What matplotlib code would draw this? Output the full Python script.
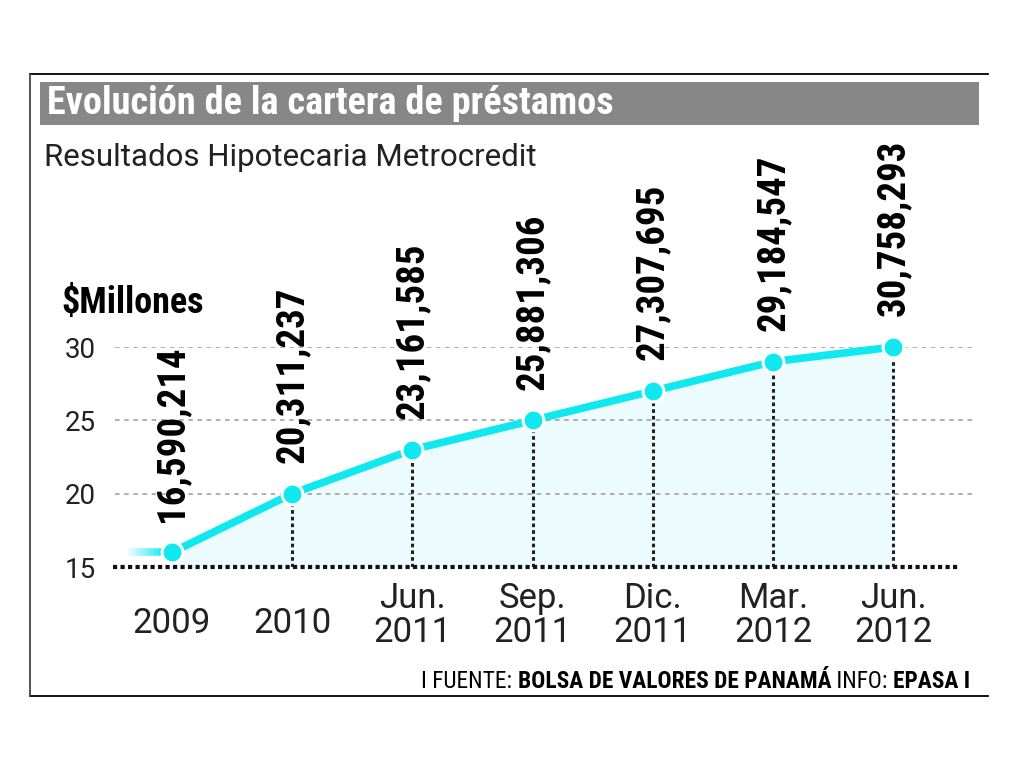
import numpy as np
import matplotlib
matplotlib.use("Agg")
import matplotlib.pyplot as plt
from matplotlib import font_manager
from matplotlib.patches import Rectangle

# data
periods = ["2009", "2010", "Jun.\n2011", "Sep.\n2011", "Dic.\n2011", "Mar.\n2012", "Jun.\n2012"]
amounts = ["16,590,214", "20,311,237", "23,161,585", "25,881,306",
           "27,307,695", "29,184,547", "30,758,293"]
plotted = [16.0, 20.0, 23.0, 25.0, 27.0, 29.0, 30.0]  # heights as drawn ($ millions)
yticks = [15, 20, 25, 30]

names = {f.name for f in font_manager.fontManager.ttflist}


def pick(*cands):
    for c in cands:
        if c in names:
            return c
    return "DejaVu Sans"


narrow = pick("Roboto Condensed", "Archivo Narrow", "Liberation Sans Narrow", "Roboto")
plain = pick("Roboto", "Liberation Sans")

cyan = "#10e8f0"
fill = "#ecfbfd"

fig = plt.figure(figsize=(10.24, 7.68), dpi=100)

# overlay in pixel coords for the frame, title bar and notes
bg = fig.add_axes([0, 0, 1, 1])
bg.set_xlim(0, 1024)
bg.set_ylim(768, 0)
bg.axis("off")
bg.plot([30, 988], [74, 74], color="black", lw=1.3)
bg.plot([30, 988], [696, 696], color="black", lw=1.3)
bg.plot([30, 30], [74, 696], color="#444444", lw=1.3)
bg.add_patch(Rectangle((40, 82), 939, 43, color="#878787", lw=0))
bg.text(47, 104, "Evolución de la cartera de préstamos", color="white",
        fontsize=27.5, fontweight="heavy", family=narrow, va="center", ha="left")
bg.text(44, 157, "Resultados Hipotecaria Metrocredit", color="#222222",
        fontsize=22.5, family=plain, va="center", ha="left")
bg.text(61, 303, "$Millones", color="black", fontsize=26, fontweight="bold",
        family=narrow, va="center", ha="left")

# source line, built right to left
pieces = [("EPASA I", "bold"), (" INFO: ", "normal"),
          ("BOLSA DE VALORES DE PANAMÁ", "bold"), ("I FUENTE: ", "normal")]
renderer = fig.canvas.get_renderer()
xr = 970
for txt, w in pieces:
    t = bg.text(xr, 688, txt, fontsize=16.8, fontweight=w, family=narrow,
                ha="right", va="baseline", color="black")
    bb = t.get_window_extent(renderer=renderer)
    xr -= bb.width

# data axes
ax = fig.add_axes([115 / 1024, (768 - 567) / 768, 860 / 1024, 220 / 768])
ax.patch.set_alpha(0)
x = np.arange(len(plotted))
ax.set_xlim(-0.474, 6.68)
ax.set_ylim(15, 30)
for s in ax.spines.values():
    s.set_visible(False)

for g in yticks[1:]:
    ax.axhline(g, color="#9a9a9a", lw=1.1, ls=(0, (3, 3)), zorder=1)
ax.plot([-0.49, 6.54], [15, 15], color="#111111", lw=3, ls=(0, (1, 0.8)),
        solid_capstyle="butt", clip_on=False, zorder=3)

ax.fill_between(x, plotted, 15, color=fill, zorder=0)
for xi, v in zip(x[1:], plotted[1:]):
    ax.plot([xi, xi], [15, v], color="#222222", lw=2.2, ls=(0, (1.2, 1)), zorder=2)

# faded lead-in on the left
steps = 12
xs = np.linspace(x[0] - 0.37, x[0] - 0.08, steps + 1)
for k in range(steps):
    ax.plot(xs[k:k + 2], [plotted[0]] * 2, color=cyan, lw=5.5,
            alpha=(k + 1) / steps * 0.9, solid_capstyle="butt", zorder=3)

ax.plot(x, plotted, color=cyan, lw=5.5, marker="o", ms=15,
        mec="white", mew=2.2, zorder=4, clip_on=False)

for xi, v, lab in zip(x, plotted, amounts):
    ax.annotate(lab, (xi, v), xytext=(0, 22), textcoords="offset points",
                rotation=90, ha="center", va="bottom", fontsize=28,
                fontweight="bold", family=narrow, color="black", annotation_clip=False)

ax.set_yticks(yticks)
ax.set_yticklabels([str(t) for t in yticks], fontsize=20, family=plain, color="#222222")
ax.tick_params(axis="y", length=0, pad=14)
ax.set_xticks([])
for xi, lab in zip(x, periods):
    yy = -0.222 if "\n" in lab else -0.255
    ax.text(xi, yy, lab, transform=ax.get_xaxis_transform(), ha="center", va="center",
            fontsize=25, family=plain, color="#222222", linespacing=1.05)

fig.savefig("out.png", dpi=100)
